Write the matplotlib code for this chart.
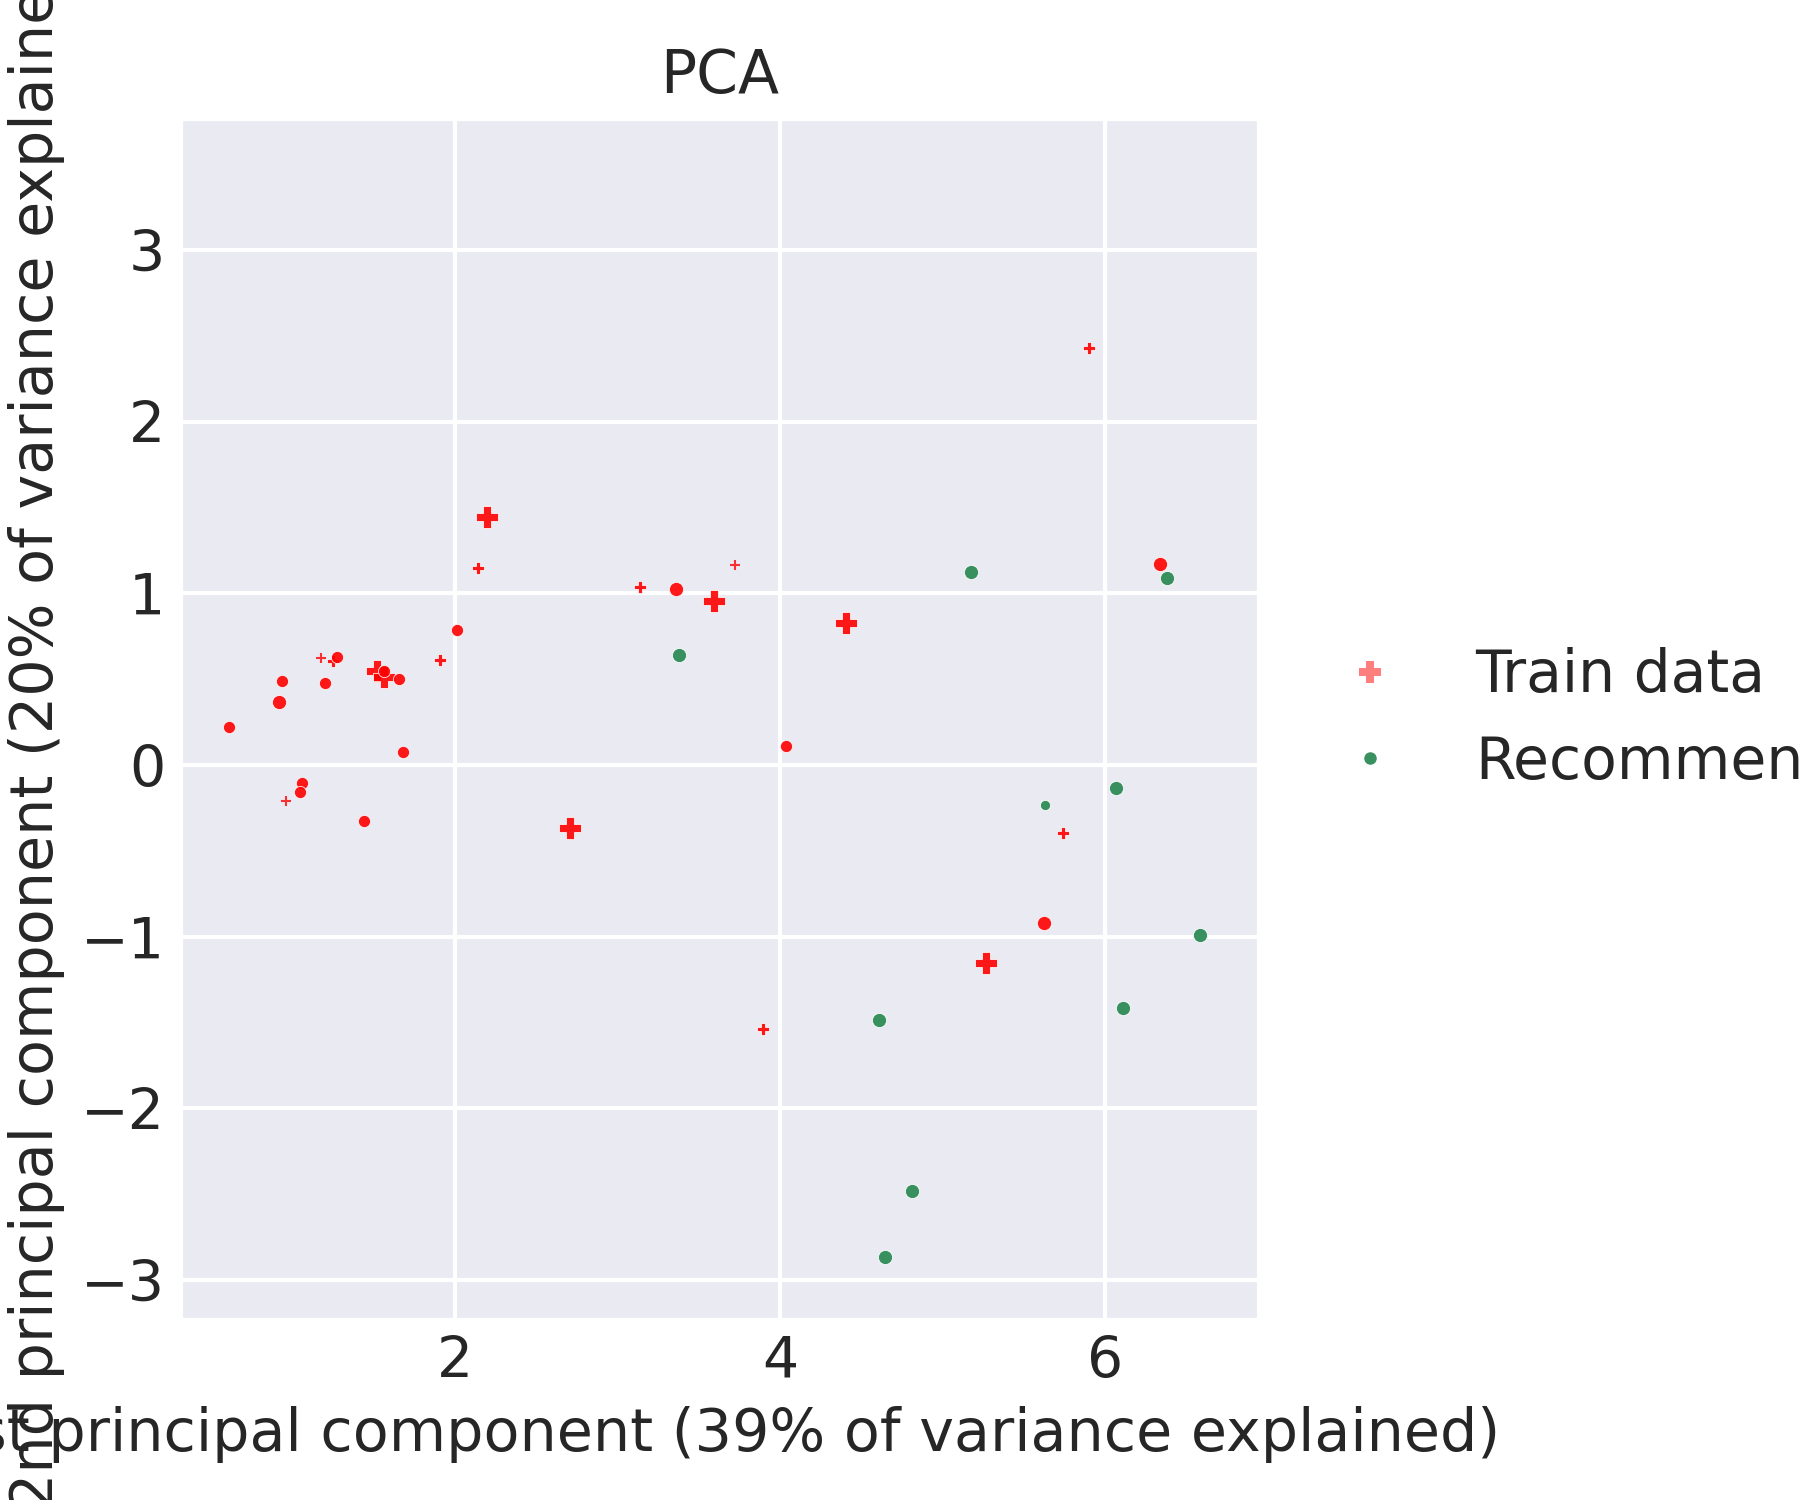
import matplotlib
matplotlib.use("Agg")
import matplotlib.pyplot as plt
from matplotlib.lines import Line2D
import seaborn as sns

# PCA coordinates
train_x = [0.607, 0.934, 0.919, 1.058, 1.044, 0.960, 1.174, 1.200, 1.247, 1.274,
           1.438, 1.520, 1.563, 1.565, 1.657, 1.678, 1.908, 2.012, 2.199, 2.142,
           2.708, 3.137, 3.360, 3.596, 3.723, 4.037, 4.406, 3.893, 5.268, 5.625,
           5.740, 5.900, 6.340]
train_y = [0.223, 0.489, 0.365, -0.103, -0.157, -0.208, 0.625, 0.476, 0.607, 0.631,
           -0.324, 0.545, 0.511, 0.549, 0.503, 0.077, 0.611, 0.786, 1.443, 1.149,
           -0.365, 1.038, 1.025, 0.955, 1.167, 0.111, 0.825, -1.538, -1.151, -0.918,
           -0.394, 2.430, 1.171]
train_kind = ["blob", "blob", "blob_l", "blob", "blob", "thin", "thin", "blob", "small", "blob",
              "blob", "big", "big", "blob", "blob", "blob", "small", "blob", "big", "small",
              "big", "small", "blob_l", "big", "thin", "blob", "big", "small", "big", "blob_l",
              "small", "small", "blob_l"]

rec_x = [3.382, 5.173, 6.380, 5.631, 6.068, 6.585, 6.111, 4.611, 4.814, 4.646]
rec_y = [0.641, 1.124, 1.091, -0.231, -0.132, -0.988, -1.413, -1.485, -2.481, -2.864]
rec_kind = ["dot", "dot", "dot", "dot_s", "dot", "dot", "dot", "dot", "dot", "dot"]

x_label = "1st principal component (39% of variance explained)"
y_label = "2nd principal component (20% of variance explained)"

STYLE = {
    "big": dict(marker="P", s=30, alpha=0.9),
    "small": dict(marker="P", s=7.5, alpha=0.9),
    "blob": dict(marker="o", s=8.5, alpha=0.9),
    "blob_l": dict(marker="o", s=11.5, alpha=0.9),
    "thin": dict(marker="+", s=6, alpha=0.8),
    "dot": dict(marker="o", s=11.5, alpha=0.95),
    "dot_s": dict(marker="o", s=6, alpha=0.95),
}

sns.set_theme(style="darkgrid")
plt.rcParams["font.family"] = "DejaVu Sans"

fig = plt.figure(figsize=(6, 5), dpi=300)
fig.subplots_adjust(left=0.1, right=0.6994, bottom=0.12, top=0.9213)
ax = fig.add_subplot(111)

for x, y, k in zip(train_x, train_y, train_kind):
    st = STYLE[k]
    if st["marker"] == "+":
        ax.scatter([x], [y], c="red", linewidths=0.5, zorder=3, **st)
    else:
        ax.scatter([x], [y], c="red", edgecolors="white", linewidths=0.2,
                   zorder=3, **st)

for x, y, k in zip(rec_x, rec_y, rec_kind):
    ax.scatter([x], [y], c="seagreen", edgecolors="white", linewidths=0.2,
               zorder=3, **STYLE[k])

ax.set_xlim(0.308, 6.948)
ax.set_ylim(-3.232, 3.768)
ax.set_xticks([2, 4, 6])
ax.set_yticks([-3, -2, -1, 0, 1, 2, 3])
ax.tick_params(labelsize=13.7, colors="#262626", length=0, pad=3.5)
for ln in ax.get_xgridlines() + ax.get_ygridlines():
    ln.set_linewidth(1.0)

ax.set_title("PCA", fontsize=14.4, color="#262626")
ax.set_xlabel(x_label, fontsize=14.1, color="#262626")
ax.set_ylabel(y_label, fontsize=14.1, color="#262626")

handles = [
    Line2D([], [], ls="none", marker="P", markersize=5.3, color="red", alpha=0.5,
           markeredgewidth=0),
    Line2D([], [], ls="none", marker="o", markersize=3.0, color="seagreen",
           alpha=0.95, markeredgewidth=0),
]
ax.legend(handles, ["Train data", "Recommended"], loc="center left",
          bbox_to_anchor=(1, 0.5), fontsize=14, frameon=False,
          labelspacing=0.5)

fig.savefig("out.png", dpi=300)
